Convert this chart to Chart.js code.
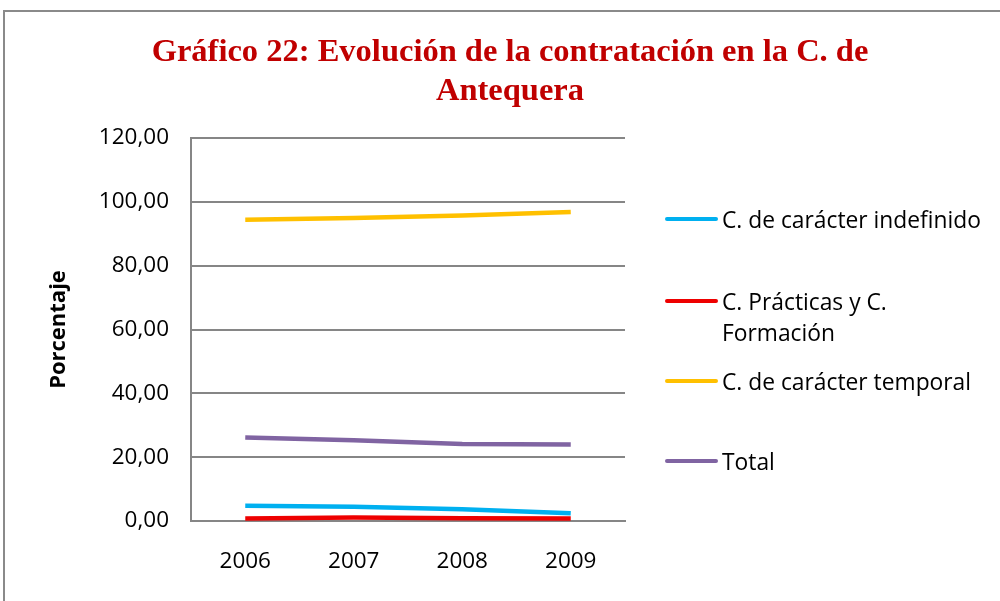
<!DOCTYPE html>
<html>
<head>
<meta charset="utf-8">
<script src="https://cdn.jsdelivr.net/npm/chart.js@4.4.1/dist/chart.umd.min.js"></script>
<style>
  body { margin: 0; background: #fff; }
  #wrap { position: relative; width: 1000px; height: 601px; overflow: hidden; }
  #frame { position: absolute; left: 3px; top: 10px; width: 1010px; height: 610px; border: 2px solid #8a8a8a; box-sizing: border-box; }
  canvas { position: absolute; left: 0; top: 0; }
  .leg { position: absolute; left: 665px; font-family: "Open Sans", sans-serif; font-size: 22.8px; color: #000; line-height: 31px; }
  .leg .sw { position: absolute; left: 0; top: 13px; width: 53px; height: 4px; border-radius: 2px; }
  .leg .tx { margin-left: 57px; white-space: nowrap; }
</style>
</head>
<body>
<div id="wrap">
  <div id="frame"></div>
  <canvas id="myChart" width="1000" height="601"></canvas>
  <div id="legend"></div>
</div>
<script>
const years = ['2006', '2007', '2008', '2009'];
const indefinido = [4.8, 4.5, 3.7, 2.4];
const practicas = [0.8, 1.1, 0.9, 0.8];
const temporal = [94.4, 94.9, 95.7, 96.8];
const total = [26.2, 25.3, 24.1, 24.0];

const seriesNames = ['C. de carácter indefinido', 'C. Prácticas y C.\nFormación', 'C. de carácter temporal', 'Total'];
const seriesColors = ['#00b0f0', '#ee0000', '#ffc000', '#8064a2'];
const legendTops = [204, 286, 366, 446];

const ctx = document.getElementById('myChart').getContext('2d');

const myChart = new Chart(ctx, {
    type: 'line',
    data: {
        labels: years,
        datasets: [indefinido, practicas, temporal, total].map((d, i) => ({
            label: seriesNames[i],
            data: d,
            borderColor: seriesColors[i],
            backgroundColor: seriesColors[i],
            borderWidth: 4.5,
            pointRadius: 0,
            tension: 0
        }))
    },
    options: {
        responsive: false,
        animation: false,
        layout: { padding: { left: 20, right: 0, top: 0, bottom: 0 } },
        plugins: {
            legend: { display: false },
            tooltip: { enabled: false },
            title: {
                display: true,
                text: ['Gráfico 22: Evolución de la contratación en la C. de', 'Antequera'],
                color: '#c00000',
                font: { family: 'Liberation Serif', size: 32.5, weight: 'bold', lineHeight: 1.2 },
                padding: { top: 33, bottom: 27 }
            }
        },
        scales: {
            x: {
                offset: true,
                grid: { display: false, drawTicks: false },
                border: { color: '#868686', width: 2 },
                ticks: { color: '#000', padding: 27, font: { family: 'Open Sans', size: 22.5 } },
                afterFit: (s) => { s.height = 80; }
            },
            y: {
                min: 0,
                max: 120,
                grid: { color: '#868686', lineWidth: 2, drawTicks: false },
                border: { color: '#868686', width: 2 },
                ticks: {
                    stepSize: 20,
                    color: '#000',
                    padding: 22,
                    font: { family: 'Open Sans', size: 22.5 },
                    callback: (v) => v.toFixed(2).replace('.', ',')
                },
                title: {
                    display: true,
                    text: 'Porcentaje',
                    color: '#000',
                    font: { family: 'Open Sans', size: 22, weight: 'bold' },
                    padding: { top: 26, bottom: 0 }
                },
                afterFit: (s) => { s.width = 171; }
            },
            // eje vacío a la derecha, solo reserva el espacio de la leyenda
            yRight: {
                position: 'right',
                grid: { display: false, drawTicks: false },
                border: { display: false },
                ticks: { display: false },
                afterFit: (s) => { s.width = 375; }
            }
        }
    }
});

// leyenda a la derecha
const legendDiv = document.getElementById('legend');
legendDiv.innerHTML = seriesNames.map((name, i) =>
    `<div class="leg" style="top:${legendTops[i]}px">
        <span class="sw" style="background:${seriesColors[i]}"></span>
        <div class="tx">${name.replace('\n', '<br>')}</div>
    </div>`).join('');
</script>
</body>
</html>
